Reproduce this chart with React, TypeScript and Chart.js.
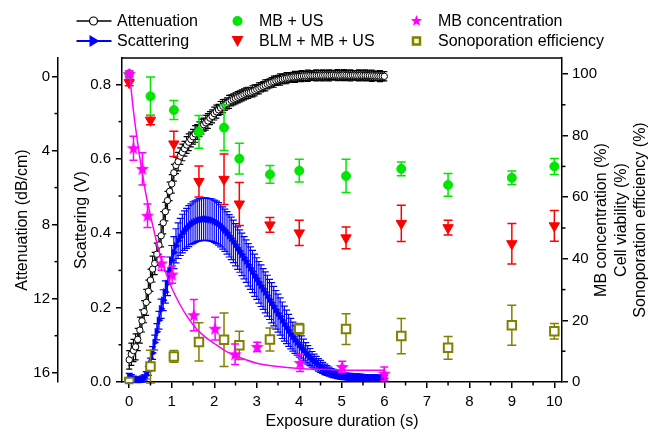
import React, { useEffect, useRef } from 'react';
import { Chart, registerables } from 'chart.js';

Chart.register(...registerables);

const FONT = '"Liberation Sans", Arial, Helvetica, sans-serif';

// ---- dense time-resolved acoustic data (s) ----
const sampleTimes = [
  0, 0.05, 0.1, 0.15, 0.2, 0.25, 0.3, 0.35, 0.4, 0.45,
  0.5, 0.55, 0.6, 0.65, 0.7, 0.75, 0.8, 0.85, 0.9, 0.95,
  1, 1.05, 1.1, 1.15, 1.2, 1.25, 1.3, 1.35, 1.4, 1.45,
  1.5, 1.55, 1.6, 1.65, 1.7, 1.75, 1.8, 1.85, 1.9, 1.95,
  2, 2.05, 2.1, 2.15, 2.2, 2.25, 2.3, 2.35, 2.4, 2.45,
  2.5, 2.55, 2.6, 2.65, 2.7, 2.75, 2.8, 2.85, 2.9, 2.95,
  3, 3.05, 3.1, 3.15, 3.2, 3.25, 3.3, 3.35, 3.4, 3.45,
  3.5, 3.55, 3.6, 3.65, 3.7, 3.75, 3.8, 3.85, 3.9, 3.95,
  4, 4.05, 4.1, 4.15, 4.2, 4.25, 4.3, 4.35, 4.4, 4.45,
  4.5, 4.55, 4.6, 4.65, 4.7, 4.75, 4.8, 4.85, 4.9, 4.95,
  5, 5.05, 5.1, 5.15, 5.2, 5.25, 5.3, 5.35, 5.4, 5.45,
  5.5, 5.55, 5.6, 5.65, 5.7, 5.75, 5.8, 5.85, 5.9, 5.95,
  6,
];

const attenuation = [
  15.3, 15.0, 14.8, 14.6, 14.2, 13.7, 13.2, 12.7, 12.2, 11.6,
  11.0, 10.4, 10.1, 9.6, 9.1, 8.6, 7.9, 7.3, 6.7, 6.2,
  5.8, 5.2, 4.8, 4.6, 4.3, 4.1, 3.9, 3.7, 3.55, 3.4,
  3.25, 3.1, 3.0, 2.85, 2.7, 2.6, 2.5, 2.4, 2.25, 2.15,
  2.0, 1.9, 1.8, 1.7, 1.6, 1.53, 1.45, 1.37, 1.29, 1.23,
  1.18, 1.12, 1.07, 1.02, 0.96, 0.91, 0.88, 0.85, 0.8, 0.75,
  0.69, 0.64, 0.58, 0.53, 0.48, 0.42, 0.37, 0.31, 0.28, 0.23,
  0.19, 0.16, 0.14, 0.11, 0.09, 0.07, 0.05, 0.03, 0.02, 0.01,
  -0.01, -0.02, -0.03, -0.03, -0.04, -0.05, -0.05, -0.06, -0.06, -0.06,
  -0.07, -0.06, -0.07, -0.07, -0.06, -0.07, -0.08, -0.07, -0.07, -0.06,
  -0.07, -0.08, -0.07, -0.07, -0.06, -0.07, -0.07, -0.06, -0.06, -0.07,
  -0.06, -0.06, -0.05, -0.05, -0.04, -0.04, -0.03, -0.03, -0.02, -0.02,
  -0.01,
];

const attenuationErr = [
  0.5, 0.6, 0.6, 0.7, 0.6, 0.7, 0.6, 0.6, 0.7, 0.6,
  0.6, 0.7, 0.6, 0.6, 0.5, 0.6, 0.6, 0.5, 0.5, 0.5,
  0.5, 0.45, 0.45, 0.5, 0.45, 0.45, 0.4, 0.45, 0.45, 0.4,
  0.4, 0.45, 0.4, 0.4, 0.4, 0.35, 0.4, 0.4, 0.35, 0.35,
  0.35, 0.35, 0.3, 0.35, 0.35, 0.3, 0.3, 0.35, 0.3, 0.3,
  0.3, 0.3, 0.3, 0.3, 0.3, 0.3, 0.3, 0.25, 0.3, 0.3,
  0.25, 0.3, 0.25, 0.25, 0.3, 0.25, 0.25, 0.25, 0.3, 0.25,
  0.25, 0.3, 0.25, 0.25, 0.3, 0.25, 0.25, 0.25, 0.3, 0.25,
  0.25, 0.3, 0.25, 0.25, 0.3, 0.25, 0.25, 0.25, 0.3, 0.25,
  0.25, 0.3, 0.25, 0.25, 0.3, 0.25, 0.25, 0.25, 0.3, 0.25,
  0.25, 0.3, 0.25, 0.25, 0.3, 0.25, 0.25, 0.25, 0.3, 0.25,
  0.25, 0.3, 0.25, 0.25, 0.3, 0.25, 0.25, 0.25, 0.3, 0.25,
  0.25,
];

const scattering = [
  0.015, 0.012, 0.009, 0.007, 0.005, 0.006, 0.008, 0.011, 0.018, 0.03,
  0.05, 0.078, 0.106, 0.135, 0.166, 0.197, 0.22, 0.242, 0.265, 0.3,
  0.327, 0.348, 0.366, 0.38, 0.39, 0.399, 0.407, 0.413, 0.419, 0.424,
  0.428, 0.431, 0.434, 0.436, 0.437, 0.438, 0.438, 0.437, 0.436, 0.435,
  0.432, 0.429, 0.425, 0.42, 0.414, 0.408, 0.401, 0.393, 0.386, 0.378,
  0.369, 0.36, 0.352, 0.343, 0.334, 0.325, 0.315, 0.306, 0.297, 0.287,
  0.278, 0.268, 0.259, 0.25, 0.241, 0.232, 0.222, 0.213, 0.204, 0.194,
  0.185, 0.176, 0.166, 0.157, 0.148, 0.139, 0.13, 0.122, 0.114, 0.107,
  0.1, 0.093, 0.086, 0.079, 0.073, 0.067, 0.061, 0.056, 0.051, 0.046,
  0.042, 0.038, 0.034, 0.031, 0.028, 0.025, 0.023, 0.021, 0.019, 0.017,
  0.016, 0.015, 0.015, 0.014, 0.014, 0.013, 0.013, 0.013, 0.012, 0.012,
  0.012, 0.011, 0.012, 0.011, 0.011, 0.011, 0.01, 0.011, 0.01, 0.01,
  0.01,
];

const scatteringErr = [
  0.008, 0.008, 0.007, 0.007, 0.007, 0.007, 0.008, 0.008, 0.01, 0.012,
  0.014, 0.017, 0.02, 0.022, 0.024, 0.026, 0.028, 0.03, 0.033, 0.036,
  0.04, 0.043, 0.046, 0.048, 0.05, 0.052, 0.053, 0.054, 0.055, 0.055,
  0.056, 0.056, 0.056, 0.057, 0.057, 0.057, 0.057, 0.057, 0.057, 0.057,
  0.057, 0.057, 0.057, 0.057, 0.057, 0.057, 0.057, 0.057, 0.057, 0.057,
  0.057, 0.057, 0.057, 0.057, 0.057, 0.057, 0.057, 0.057, 0.057, 0.057,
  0.056, 0.056, 0.056, 0.055, 0.055, 0.055, 0.054, 0.054, 0.053, 0.052,
  0.051, 0.05, 0.049, 0.047, 0.045, 0.043, 0.041, 0.039, 0.037, 0.035,
  0.033, 0.031, 0.029, 0.027, 0.025, 0.023, 0.021, 0.019, 0.018, 0.017,
  0.016, 0.015, 0.014, 0.013, 0.012, 0.011, 0.011, 0.01, 0.01, 0.009,
  0.009, 0.009, 0.009, 0.009, 0.009, 0.009, 0.009, 0.009, 0.009, 0.009,
  0.008, 0.008, 0.008, 0.008, 0.008, 0.008, 0.008, 0.008, 0.008, 0.008,
  0.008,
];

// ---- cell experiments (%) ----
const cellTimes = [0, 0.5, 1.05, 1.64, 2.23, 2.59, 3.31, 4.0, 5.1, 6.4, 7.5, 9.0, 10.0];
const viabilityMBUS = [100, 92.8, 88.3, 81.2, 82.6, 72.5, 67.4, 68.6, 66.9, 69.2, 64.0, 66.3, 70.0];
const viabilityMBUSErr = [1.0, 6.2, 3.1, 5.3, 7.4, 5.0, 2.9, 3.7, 5.4, 2.2, 3.7, 2.2, 2.6];
const viabilityBLM = [97.2, 85.0, 77.3, 65.1, 65.8, 57.8, 51.0, 48.4, 46.8, 51.5, 50.1, 44.9, 50.7];
const viabilityBLMErr = [1.0, 1.5, 4.1, 5.0, 8.2, 7.0, 2.4, 4.1, 3.5, 5.9, 2.4, 6.6, 5.0];
const sonoporation = [0, 5.0, 8.3, 13.0, 13.7, 11.9, 13.8, 17.3, 17.2, 14.9, 11.1, 18.4, 16.5];
const sonoporationErr = [0.5, 5.3, 1.9, 6.2, 8.7, 4.6, 3.7, 1.7, 5.0, 5.7, 3.7, 6.5, 2.5];

// ---- microbubble concentration (%) ----
const mbTimes = [0, 0.1, 0.31, 0.43, 0.76, 1.01, 1.52, 2.02, 2.49, 3.01, 4.02, 5.01, 6.0];
const mbConc = [100, 75.9, 69.2, 54.0, 38.5, 34.9, 21.7, 17.3, 9.0, 11.4, 6.2, 4.9, 2.7];
const mbConcErr = [1.0, 3.9, 5.2, 3.8, 2.2, 2.8, 5.1, 3.7, 3.3, 1.5, 2.8, 1.8, 2.2];
const mbFitTimes = [0, 0.1, 0.2, 0.3, 0.4, 0.5, 0.6, 0.7, 0.8, 0.9, 1.0, 1.2, 1.4, 1.6, 1.8, 2.0, 2.3, 2.6, 3.0, 3.5, 4.0, 4.5, 5.0, 5.5, 6.0];
const mbFit = [101, 88, 77.5, 68.5, 60.5, 54, 48, 42.5, 38, 34, 30.5, 25, 20.5, 17, 14.5, 12.5, 9.8, 8, 6.1, 5, 4.4, 4.1, 3.9, 3.8, 3.8];

// ---- ticks ----
const xTicks = [0, 0.5, 1, 1.5, 2, 2.5, 3, 3.5, 4, 4.5, 5, 5.5, 6, 6.5, 7, 7.5, 8, 8.5, 9, 9.5, 10];
const xLabels = [0, 1, 2, 3, 4, 5, 6, 7, 8, 9, 10];
const scatTicks = [0, 0.1, 0.2, 0.3, 0.4, 0.5, 0.6, 0.7, 0.8];
const scatLabels = [0, 0.2, 0.4, 0.6, 0.8];
const attTicks = [0, 2, 4, 6, 8, 10, 12, 14, 16];
const attLabels = [0, 4, 8, 12, 16];
const pctTicks = [0, 10, 20, 30, 40, 50, 60, 70, 80, 90, 100];
const pctLabels = [0, 20, 40, 60, 80, 100];

const rightTitleLines = ['MB concentration (%)', 'Cell viability (%)', 'Sonoporation efficiency (%)'];

const C_BLACK = '#000000';
const C_BLUE = '#0000ff';
const C_GREEN = '#00e600';
const C_RED = '#ff0000';
const C_MAGENTA = '#ff00ff';
const C_OLIVE = '#808000';

const pts = (xs: number[], ys: number[]) => xs.map((x, i) => ({ x, y: ys[i] }));

function starPath(ctx: CanvasRenderingContext2D, cx: number, cy: number, R: number) {
  const r = R * 0.42;
  ctx.beginPath();
  for (let i = 0; i < 10; i++) {
    const a = -Math.PI / 2 + (i * Math.PI) / 5;
    const rad = i % 2 === 0 ? R : r;
    const px = cx + rad * Math.cos(a);
    const py = cy + rad * Math.sin(a);
    if (i === 0) ctx.moveTo(px, py);
    else ctx.lineTo(px, py);
  }
  ctx.closePath();
}

function makeStar(size: number, color: string) {
  const c = document.createElement('canvas');
  c.width = size;
  c.height = size;
  const g = c.getContext('2d')!;
  starPath(g, size / 2, size / 2 + 0.5, size / 2);
  g.fillStyle = color;
  g.fill();
  return c;
}

const errorBarPlugin = {
  id: 'errorBars',
  beforeDatasetDraw(chart: any, args: any) {
    const ds = chart.data.datasets[args.index];
    if (!ds.errors) return;
    const meta = args.meta;
    const xs = chart.scales[meta.xAxisID];
    const ys = chart.scales[meta.yAxisID];
    const ctx = chart.ctx;
    ctx.save();
    ctx.strokeStyle = ds.errorColor;
    ctx.lineWidth = ds.errorWidth || 1.5;
    const cap = ds.errorCap || 4;
    ds.data.forEach((p: any, i: number) => {
      const e = ds.errors[i];
      const x = xs.getPixelForValue(p.x);
      const y1 = ys.getPixelForValue(p.y - e);
      const y2 = ys.getPixelForValue(p.y + e);
      ctx.beginPath();
      ctx.moveTo(x, y1);
      ctx.lineTo(x, y2);
      ctx.moveTo(x - cap, y1);
      ctx.lineTo(x + cap, y1);
      ctx.moveTo(x - cap, y2);
      ctx.lineTo(x + cap, y2);
      ctx.stroke();
    });
    ctx.restore();
  },
};

// minor ticks: shorter marks for unlabeled tick values
const minorTickPlugin = {
  id: 'minorTicks',
  afterDraw(chart: any) {
    const ctx = chart.ctx;
    const L = 3.5;
    ctx.save();
    ctx.strokeStyle = '#000';
    ctx.lineWidth = 1.5;
    const sx = chart.scales.x;
    xTicks.filter((v) => !xLabels.includes(v)).forEach((v) => {
      const px = sx.getPixelForValue(v);
      ctx.beginPath();
      ctx.moveTo(px, sx.top);
      ctx.lineTo(px, sx.top + L);
      ctx.stroke();
    });
    const sa = chart.scales.yAtt;
    attTicks.filter((v) => !attLabels.includes(v)).forEach((v) => {
      const py = sa.getPixelForValue(v);
      ctx.beginPath();
      ctx.moveTo(sa.right, py);
      ctx.lineTo(sa.right - L, py);
      ctx.stroke();
    });
    const ss = chart.scales.yS;
    scatTicks.filter((v) => !scatLabels.includes(v)).forEach((v) => {
      const py = ss.getPixelForValue(v);
      ctx.beginPath();
      ctx.moveTo(ss.right, py);
      ctx.lineTo(ss.right - L, py);
      ctx.stroke();
    });
    const sp = chart.scales.yP;
    pctTicks.filter((v) => !pctLabels.includes(v)).forEach((v) => {
      const py = sp.getPixelForValue(v);
      ctx.beginPath();
      ctx.moveTo(sp.left, py);
      ctx.lineTo(sp.left + L, py);
      ctx.stroke();
    });
    ctx.restore();
  },
};

const legendItems = [
  { label: 'Attenuation', kind: 'lineCircle', col: 0, row: 0 },
  { label: 'Scattering', kind: 'lineTri', col: 0, row: 1 },
  { label: 'MB + US', kind: 'circle', col: 1, row: 0 },
  { label: 'BLM + MB + US', kind: 'downTri', col: 1, row: 1 },
  { label: 'MB concentration', kind: 'star', col: 2, row: 0 },
  { label: 'Sonoporation efficiency', kind: 'square', col: 2, row: 1 },
];
const legendColMarker = [93.5, 237.5, 416.5];
const legendColText = [117, 259, 438];
const legendRowY = [21, 41];

const decorPlugin = {
  id: 'decor',
  afterDraw(chart: any) {
    const { ctx, chartArea } = chart;
    ctx.save();
    ctx.strokeStyle = '#000';
    ctx.lineWidth = 1.5;
    ctx.beginPath();
    ctx.moveTo(chartArea.left, chartArea.top);
    ctx.lineTo(chartArea.right, chartArea.top);
    ctx.stroke();

    const yP = chart.scales.yP;
    const cy = (chartArea.top + chartArea.bottom) / 2;
    ctx.fillStyle = '#000';
    ctx.font = `16px ${FONT}`;
    ctx.textAlign = 'center';
    ctx.textBaseline = 'middle';
    rightTitleLines.forEach((line, i) => {
      ctx.save();
      ctx.translate(yP.left + 40 + i * 19.5, cy);
      ctx.rotate(-Math.PI / 2);
      ctx.fillText(line, 0, 0);
      ctx.restore();
    });

    ctx.textAlign = 'left';
    legendItems.forEach((it) => {
      const mx = legendColMarker[it.col];
      const y = legendRowY[it.row];
      ctx.lineWidth = 1.5;
      if (it.kind === 'lineCircle') {
        ctx.strokeStyle = C_BLACK;
        ctx.beginPath();
        ctx.moveTo(mx - 17, y);
        ctx.lineTo(mx + 18, y);
        ctx.stroke();
        ctx.fillStyle = '#fff';
        ctx.lineWidth = 1.2;
        ctx.beginPath();
        ctx.arc(mx, y, 4, 0, Math.PI * 2);
        ctx.fill();
        ctx.stroke();
      } else if (it.kind === 'lineTri') {
        ctx.strokeStyle = C_BLUE;
        ctx.lineWidth = 2;
        ctx.beginPath();
        ctx.moveTo(mx - 17, y);
        ctx.lineTo(mx + 18, y);
        ctx.stroke();
        ctx.fillStyle = C_BLUE;
        ctx.beginPath();
        ctx.moveTo(mx + 6, y);
        ctx.lineTo(mx - 4, y - 6);
        ctx.lineTo(mx - 4, y + 6);
        ctx.closePath();
        ctx.fill();
      } else if (it.kind === 'circle') {
        ctx.fillStyle = C_GREEN;
        ctx.beginPath();
        ctx.arc(mx, y, 5, 0, Math.PI * 2);
        ctx.fill();
      } else if (it.kind === 'downTri') {
        ctx.fillStyle = C_RED;
        ctx.beginPath();
        ctx.moveTo(mx - 6, y - 5);
        ctx.lineTo(mx + 6, y - 5);
        ctx.lineTo(mx, y + 6);
        ctx.closePath();
        ctx.fill();
      } else if (it.kind === 'star') {
        ctx.fillStyle = C_MAGENTA;
        starPath(ctx, mx, y, 6);
        ctx.fill();
      } else if (it.kind === 'square') {
        ctx.strokeStyle = C_OLIVE;
        ctx.lineWidth = 2.5;
        ctx.fillStyle = '#ffffc0';
        ctx.fillRect(mx - 3.5, y - 3.5, 7, 7);
        ctx.strokeRect(mx - 3.5, y - 3.5, 7, 7);
      }
      ctx.fillStyle = '#000';
      ctx.fillText(it.label, legendColText[it.col], y + 0.5);
    });
    ctx.restore();
  },
};

const tickFont = { family: FONT, size: 15 };
const titleFont = { family: FONT, size: 16 };

const majorOnly = (labels: number[]) => (c: any) =>
  c.tick && labels.includes(c.tick.value) ? '#000' : 'rgba(0,0,0,0)';

export default function App() {
  const canvasRef = useRef<HTMLCanvasElement | null>(null);

  useEffect(() => {
    const canvas = canvasRef.current;
    if (!canvas) return;
    const star = makeStar(14, C_MAGENTA);

    const chart = new Chart(canvas, {
      type: 'scatter',
      data: {
        datasets: [
          {
            label: 'MB concentration',
            data: pts(mbTimes, mbConc),
            yAxisID: 'yP',
            showLine: false,
            pointStyle: star as any,
            pointRadius: 7,
            errors: mbConcErr,
            errorColor: C_MAGENTA,
            errorCap: 4,
          } as any,
          {
            label: 'MB fit',
            data: pts(mbFitTimes, mbFit),
            yAxisID: 'yP',
            showLine: true,
            borderColor: C_MAGENTA,
            borderWidth: 1.5,
            pointRadius: 0,
            cubicInterpolationMode: 'monotone',
          } as any,
          {
            label: 'Sonoporation efficiency',
            data: pts(cellTimes, sonoporation),
            yAxisID: 'yP',
            showLine: false,
            pointStyle: 'rect',
            pointRadius: 6,
            pointBackgroundColor: '#ffffff',
            pointBorderColor: C_OLIVE,
            pointBorderWidth: 2,
            errors: sonoporationErr,
            errorColor: C_OLIVE,
            errorCap: 4.5,
          } as any,
          {
            label: 'MB + US',
            data: pts(cellTimes, viabilityMBUS),
            yAxisID: 'yP',
            showLine: false,
            pointStyle: 'circle',
            pointRadius: 4.5,
            pointBackgroundColor: C_GREEN,
            pointBorderColor: C_GREEN,
            errors: viabilityMBUSErr,
            errorColor: C_GREEN,
            errorCap: 4.5,
          } as any,
          {
            label: 'BLM + MB + US',
            data: pts(cellTimes, viabilityBLM),
            yAxisID: 'yP',
            showLine: false,
            pointStyle: 'triangle',
            pointRotation: 180,
            pointRadius: 6,
            pointBackgroundColor: C_RED,
            pointBorderColor: C_RED,
            errors: viabilityBLMErr,
            errorColor: C_RED,
            errorCap: 4.5,
          } as any,
          {
            label: 'Scattering',
            data: pts(sampleTimes, scattering),
            yAxisID: 'yS',
            showLine: true,
            borderColor: C_BLUE,
            borderWidth: 1.5,
            pointStyle: 'triangle',
            pointRotation: 90,
            pointRadius: 4,
            pointBackgroundColor: C_BLUE,
            pointBorderColor: C_BLUE,
            pointBorderWidth: 0.5,
            errors: scatteringErr,
            errorColor: C_BLUE,
            errorCap: 3.5,
            errorWidth: 1.2,
          } as any,
          {
            label: 'Attenuation',
            data: pts(sampleTimes, attenuation),
            yAxisID: 'yAtt',
            showLine: true,
            borderColor: C_BLACK,
            borderWidth: 1,
            pointStyle: 'circle',
            pointRadius: 3.2,
            pointBackgroundColor: '#ffffff',
            pointBorderColor: C_BLACK,
            pointBorderWidth: 1,
            errors: attenuationErr,
            errorColor: C_BLACK,
            errorCap: 3,
            errorWidth: 1.2,
          } as any,
        ],
      },
      options: {
        animation: false,
        responsive: false,
        devicePixelRatio: 1,
        layout: { padding: { top: 58, left: 0, right: 0, bottom: 0 } },
        plugins: {
          legend: { display: false },
          tooltip: { enabled: false },
        },
        scales: {
          x: {
            type: 'linear',
            position: 'bottom',
            min: -0.17,
            max: 10.18,
            afterBuildTicks: (s: any) => {
              s.ticks = xTicks.map((v) => ({ value: v }));
            },
            afterFit: (s: any) => {
              s.height = 53;
            },
            grid: { drawOnChartArea: false, drawTicks: true, tickLength: 6, color: '#000', lineWidth: 1.5, tickColor: majorOnly(xLabels) },
            border: { color: '#000', width: 1.5 },
            ticks: {
              autoSkip: false,
              maxRotation: 0,
              padding: 5,
              color: '#000',
              font: tickFont,
              callback: (v: any) => (xLabels.includes(Number(v)) ? String(v) : ''),
            },
            title: { display: true, text: 'Exposure duration (s)', color: '#000', font: titleFont, padding: { top: 0, bottom: 4 } },
          },
          yAtt: {
            type: 'linear',
            position: 'left',
            weight: 1,
            reverse: true,
            min: -1,
            max: 16.5,
            afterBuildTicks: (s: any) => {
              s.ticks = attTicks.map((v) => ({ value: v }));
            },
            afterFit: (s: any) => {
              s.width = 58;
            },
            grid: { drawOnChartArea: false, drawTicks: true, tickLength: 6, color: '#000', lineWidth: 1.5, tickColor: majorOnly(attLabels) },
            border: { color: '#000', width: 1.5 },
            ticks: {
              autoSkip: false,
              padding: 2,
              color: '#000',
              font: tickFont,
              callback: (v: any) => (attLabels.includes(Number(v)) ? String(v) : ''),
            },
            title: { display: true, text: 'Attenuation (dB/cm)', color: '#000', font: titleFont, padding: { top: 13, bottom: 0 } },
          },
          yS: {
            type: 'linear',
            position: 'left',
            weight: 0,
            min: 0,
            max: 0.871,
            afterBuildTicks: (s: any) => {
              s.ticks = scatTicks.map((v) => ({ value: v }));
            },
            afterFit: (s: any) => {
              s.width = 64;
            },
            grid: { drawOnChartArea: false, drawTicks: true, tickLength: 6, color: '#000', lineWidth: 1.5, tickColor: majorOnly(scatLabels) },
            border: { color: '#000', width: 1.5 },
            ticks: {
              autoSkip: false,
              padding: 5,
              color: '#000',
              font: tickFont,
              callback: (v: any) => (scatLabels.includes(Number(v)) ? Number(v).toFixed(1) : ''),
            },
            title: { display: true, text: 'Scattering (V)', color: '#000', font: titleFont, padding: { top: 14, bottom: 0 } },
          },
          yP: {
            type: 'linear',
            position: 'right',
            min: 0,
            max: 105.2,
            afterBuildTicks: (s: any) => {
              s.ticks = pctTicks.map((v) => ({ value: v }));
            },
            afterFit: (s: any) => {
              s.width = 86;
            },
            grid: { drawOnChartArea: false, drawTicks: true, tickLength: 6, color: '#000', lineWidth: 1.5, tickColor: majorOnly(pctLabels) },
            border: { color: '#000', width: 1.5 },
            ticks: {
              autoSkip: false,
              padding: 4,
              color: '#000',
              font: tickFont,
              callback: (v: any) => (pctLabels.includes(Number(v)) ? String(v) : ''),
            },
          },
        },
      } as any,
      plugins: [errorBarPlugin, minorTickPlugin, decorPlugin],
    });

    return () => {
      chart.destroy();
    };
  }, []);

  return (
    <div style={{ position: 'absolute', left: 0, top: 0, width: 648, height: 435, background: '#fff' }}>
      <canvas ref={canvasRef} width={648} height={435} style={{ display: 'block' }} />
    </div>
  );
}
